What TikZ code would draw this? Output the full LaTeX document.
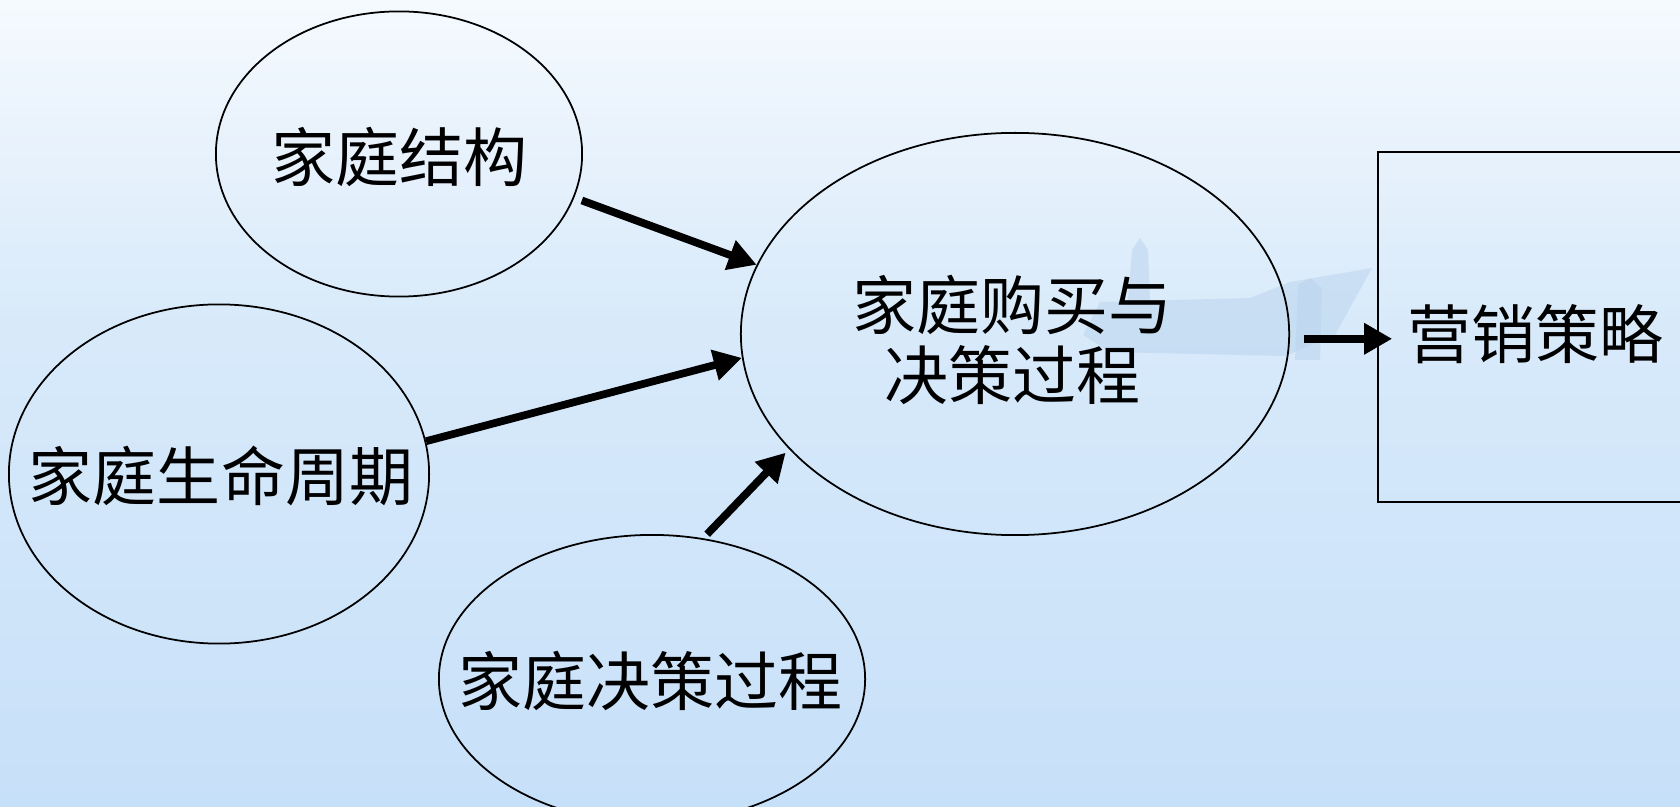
\documentclass[tikz,border=0pt]{standalone}
\usepackage{fontspec}
\setmainfont{Noto Sans CJK SC}
\usetikzlibrary{arrows.meta,shapes.geometric}
\definecolor{bgA}{HTML}{F5FAFE}
\definecolor{bgB}{HTML}{E8F2FC}
\definecolor{bgC}{HTML}{D8EAFA}
\definecolor{bgD}{HTML}{C7E0F9}
\definecolor{boatc}{HTML}{B9D3EE}
\pgfdeclareverticalshading{seabg}{100bp}{color(0bp)=(bgD); color(25bp)=(bgD); color(55bp)=(bgC); color(66bp)=(bgB); color(75bp)=(bgA); color(100bp)=(bgA)}
\tikzset{
  oval/.style={ellipse, draw=black, line width=0.5pt, inner sep=0pt},
  txt/.style={inner sep=0pt, align=center, font=\fontsize{18.2pt}{19.9pt}\selectfont},
  boxnode/.style={rectangle, draw=black, line width=0.5pt, inner sep=0pt},
  arr/.style={line width=2.2pt, -{Triangle[length=8pt,width=8.5pt]}},
  boat/.style={fill=boatc, opacity=0.5},
}
\begin{document}
\begin{tikzpicture}[x=0.01cm, y=-0.01cm]
\useasboundingbox (0,0) rectangle (1680,807);
\shade[shading=seabg] (0,0) rectangle (1680,807);
\begin{scope}
\clip (0,0) rectangle (1680,807);
% faint boat in the background photo
\fill[boat] (1083,335) -- (1100,302) -- (1250,298) -- (1290,282) -- (1372,268)
  -- (1335,335) -- (1285,356) -- (1110,352) -- cycle;
\fill[boat] (1128,300) -- (1132,250) -- (1140,238) -- (1148,250) -- (1150,300) -- cycle;
\fill[boat] (1295,360) -- (1298,285) -- (1310,278) -- (1322,288) -- (1320,360) -- cycle;

\node[oval, minimum width=3.66cm, minimum height=2.85cm] (jg) at (399,154) {};
\node[oval, minimum width=4.20cm, minimum height=3.39cm] (sm) at (219,474) {};
\node[oval, minimum width=4.26cm, minimum height=2.88cm] (jc) at (652,679) {};
\node[oval, minimum width=5.48cm, minimum height=4.02cm] (gm) at (1015,334) {};
\node[boxnode, minimum width=3.14cm, minimum height=3.50cm] (yx) at (1535,327) {};

\node[txt] (jgt) at (399,157) {家庭结构};
\node[txt] (smt) at (221,476) {家庭生命周期};
\node[txt] (jct) at (650,681) {家庭决策过程};
\node[txt] (gmt) at (1012,340) {家庭购买与\\决策过程};
\node[txt] (yxt) at (1535,334) {营销策略};

\draw[arr, shorten <=2.3pt] (jg.-14) -- (gm.165);
\draw[arr] (sm.9) -- (gm.185);
\draw[arr, shorten <=1.6pt, shorten >=1.4pt] (jc.70) -- (gm.207);
\draw[arr, shorten <=3.9pt, shorten >=-4.3pt] (gm.-1.6) -- (gm.-1.6 -| yx.west);
\end{scope}
\end{tikzpicture}
\end{document}
